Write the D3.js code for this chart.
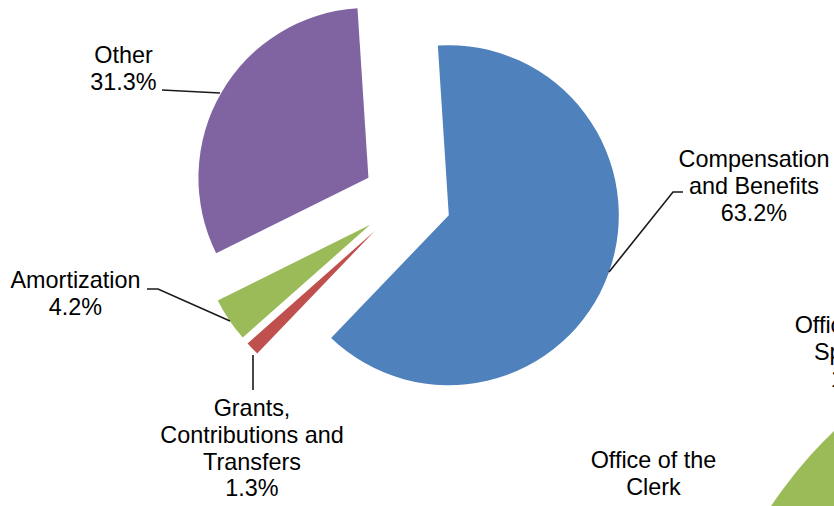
<!DOCTYPE html>
<html>
<head>
<meta charset="utf-8">
<script src="https://cdn.jsdelivr.net/npm/d3@7"></script>
<style>
  html, body { margin: 0; padding: 0; background: #fff; overflow: hidden; }
  svg { display: block; }
  text { font-family: "Liberation Sans", Arial, sans-serif; font-size: 23.4px; fill: #000; }
</style>
</head>
<body>
<svg id="chart" width="834" height="506"></svg>
<script>
// ---- data ----
const categories = ["Compensation and Benefits", "Grants, Contributions and Transfers", "Amortization", "Other"];
const values = [63.2, 1.3, 4.2, 31.3];
const labelLines = [
  ["Compensation", "and Benefits", "63.2%"],
  ["Grants,", "Contributions and", "Transfers", "1.3%"],
  ["Amortization", "4.2%"],
  ["Other", "31.3%"]
];
const colors = ["#4F81BD", "#C0504D", "#9BBB59", "#8064A2"];

// second (cut-off) pie on the right
const pie2Categories = ["Office of the Clerk", "Office of the Speaker"];
const pie2Labels = [["Office of the", "Clerk", ""], ["Office of the", "Speaker", "1.5%"]];

// ---- layout ----
const svg = d3.select("#chart");
const cx = 407, cy = 200, R = 170, explode = 44.5;
const startDeg = -3.7;

const pie = d3.pie().sort(null).value(d => d)
  .startAngle(startDeg * Math.PI / 180)
  .endAngle((startDeg + 360) * Math.PI / 180);
const arcs = pie(values);
const arc = d3.arc().innerRadius(0).outerRadius(R);

const g = svg.append("g").attr("transform", `translate(${cx},${cy})`);
g.selectAll("path.slice").data(arcs).enter().append("path")
  .attr("class", "slice")
  .attr("d", arc)
  .attr("fill", (d, i) => colors[i])
  .attr("transform", d => {
    const mid = (d.startAngle + d.endAngle) / 2;
    return `translate(${explode * Math.sin(mid)},${-explode * Math.cos(mid)})`;
  });

// second pie, mostly off-canvas
const p2cx = 1147, p2cy = 757, p2R = 452;
const arc2 = d3.arc().innerRadius(0).outerRadius(p2R);
svg.append("path")
  .attr("transform", `translate(${p2cx},${p2cy})`)
  .attr("d", arc2({startAngle: 250 * Math.PI / 180, endAngle: 340 * Math.PI / 180}))
  .attr("fill", colors[2]);

// leader lines (polyline points)
const leaders = [
  [[609, 272], [673, 192], [683, 192]],
  [[253, 355], [253, 390]],
  [[147, 289], [158, 289], [230, 321]],
  [[162, 90], [220, 93]]
];
svg.selectAll("path.leader").data(leaders).enter().append("path")
  .attr("class", "leader")
  .attr("d", d => d3.line()(d))
  .attr("fill", "none")
  .attr("stroke", "#1a1a1a")
  .attr("stroke-width", 1.6);

// labels: center x, first baseline
const labelPos = [[754, 167], [252, 416], [75.5, 288], [123.5, 63]];
const lineH = 26.8;
function drawLabel(lines, pos) {
  const t = svg.append("text").attr("text-anchor", "middle")
    .attr("x", pos[0]).attr("y", pos[1]);
  lines.forEach((s, k) => {
    t.append("tspan").attr("x", pos[0]).attr("y", pos[1] + k * lineH).text(s);
  });
}
labelLines.forEach((lines, i) => drawLabel(lines, labelPos[i]));

const pie2LabelPos = [[653.5, 468], [857.5, 333]];
pie2Labels.forEach((lines, i) => drawLabel(lines, pie2LabelPos[i]));
</script>
</body>
</html>
